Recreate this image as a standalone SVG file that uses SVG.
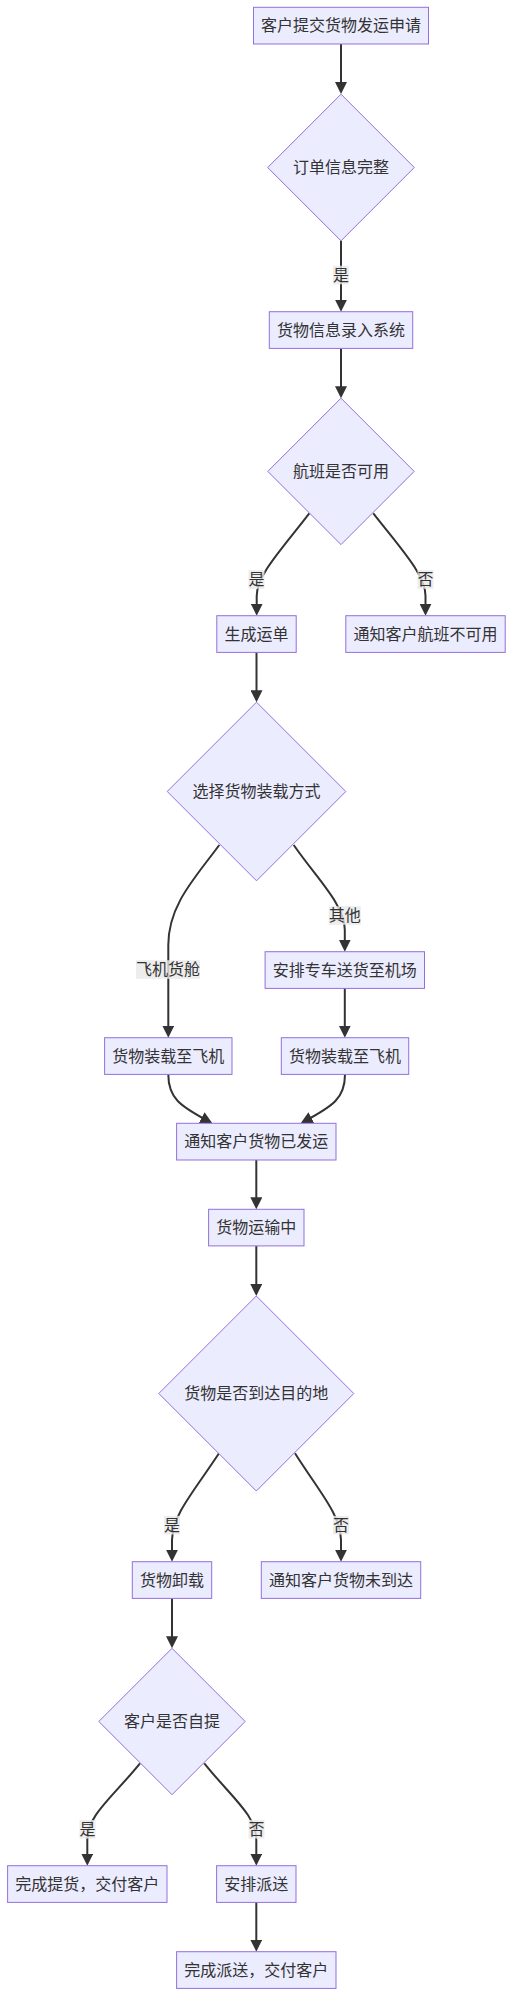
<svg xmlns="http://www.w3.org/2000/svg" width="513" height="1996" viewBox="0 0 513 1996">
<style>
.node rect,.node polygon{fill:#ECECFF;stroke:#9370DB;stroke-width:1}
.node text,.elabel text{font-family:"Liberation Sans","Noto Sans CJK SC",sans-serif;font-size:16px;fill:#333;text-anchor:middle;dominant-baseline:central}
.edges path{fill:none;stroke:#333;stroke-width:2;marker-end:url(#arrow)}
.elabel rect{fill:rgba(232,232,232,0.8)}
</style>
<defs>
<marker id="arrow" markerUnits="userSpaceOnUse" markerWidth="12" markerHeight="12" viewBox="0 0 12 12" refX="8" refY="6" orient="auto">
<path d="M0,0 L12,6 L0,12 z" fill="#333"/>
</marker>
</defs>
<g id="connectors" class="edges">
<path d="M341,44 L341,90"/>
<path d="M341,240.8 L341,307.7"/>
<path d="M341,348.4 L341,394.3"/>
<path d="M309.3,513.3 C281,550 256.7,575 256.7,596 L256.7,611.7"/>
<path d="M373.3,513.3 C402,550 425.5,575 425.5,596 L425.5,611.7"/>
<path d="M256.5,652.4 L256.5,698.2"/>
<path d="M219.3,845 C195,878 168.3,905 168.3,945 L168.3,1033.7"/>
<path d="M293.7,845 C318,880 344.8,905 344.8,930 L344.8,947.7"/>
<path d="M344.8,988.4 L344.8,1033.7"/>
<path d="M168.3,1074.4 C168.3,1098 180,1106 208.8,1121.4"/>
<path d="M345,1074.4 C345,1098 333,1106 304.2,1121.4"/>
<path d="M256.3,1160 L256.3,1205.3"/>
<path d="M256.3,1245.9 L256.3,1292"/>
<path d="M219,1453.3 C195,1490 172,1515 172,1540 L172,1557.7"/>
<path d="M295,1453.3 C318,1490 341,1515 341,1540 L341,1557.7"/>
<path d="M172,1598.4 L172,1644.3"/>
<path d="M140,1763.3 C112,1798 87.3,1815 87.3,1840 L87.3,1861.7"/>
<path d="M204.3,1763.3 C232,1798 256.3,1815 256.3,1840 L256.3,1861.7"/>
<path d="M256.3,1902.4 L256.3,1947.7"/>
</g>
<g id="edge-labels">
<g class="elabel"><rect x="333" y="265.7" width="16" height="18.6"/><text x="341" y="275">是</text></g>
<g class="elabel"><rect x="248.5" y="570.2" width="16" height="18.6"/><text x="256.5" y="579.5">是</text></g>
<g class="elabel"><rect x="417.5" y="570.2" width="16" height="18.6"/><text x="425.5" y="579.5">否</text></g>
<g class="elabel"><rect x="136" y="960.2" width="64" height="18.6"/><text x="168" y="969.5">飞机货舱</text></g>
<g class="elabel"><rect x="328.8" y="906.2" width="32" height="18.6"/><text x="344.8" y="915.5">其他</text></g>
<g class="elabel"><rect x="164" y="1515.9" width="16" height="18.6"/><text x="172" y="1525.2">是</text></g>
<g class="elabel"><rect x="333" y="1515.9" width="16" height="18.6"/><text x="341" y="1525.2">否</text></g>
<g class="elabel"><rect x="79.5" y="1820" width="16" height="18.6"/><text x="87.5" y="1829.3">是</text></g>
<g class="elabel"><rect x="248.5" y="1820" width="16" height="18.6"/><text x="256.5" y="1829.3">否</text></g>
</g>
<g id="A" class="node"><rect x="253.5" y="7.3" width="175" height="36.7"/><text x="341" y="25.7">客户提交货物发运申请</text></g>
<g id="D1" class="node"><polygon points="341,94.2 414.3,167.5 341,240.8 267.7,167.5"/><text x="341" y="167.5">订单信息完整</text></g>
<g id="B" class="node"><rect x="269.3" y="311.7" width="143.4" height="36.7"/><text x="341" y="330">货物信息录入系统</text></g>
<g id="D2" class="node"><polygon points="341,398.2 414.2,471.4 341,544.6 267.8,471.4"/><text x="341" y="471.4">航班是否可用</text></g>
<g id="C" class="node"><rect x="216.8" y="615.7" width="79.4" height="36.7"/><text x="256.5" y="634">生成运单</text></g>
<g id="E" class="node"><rect x="345.8" y="615.7" width="159.4" height="36.7"/><text x="425.5" y="634">通知客户航班不可用</text></g>
<g id="D3" class="node"><polygon points="256.5,702.2 345.8,791.5 256.5,880.8 167.2,791.5"/><text x="256.5" y="791.5">选择货物装载方式</text></g>
<g id="G" class="node"><rect x="265.1" y="951.7" width="159.4" height="36.7"/><text x="344.8" y="970">安排专车送货至机场</text></g>
<g id="F" class="node"><rect x="104.6" y="1037.7" width="127.4" height="36.7"/><text x="168.3" y="1056">货物装载至飞机</text></g>
<g id="H" class="node"><rect x="281.3" y="1037.7" width="127.4" height="36.7"/><text x="345" y="1056">货物装载至飞机</text></g>
<g id="I" class="node"><rect x="176.6" y="1123.3" width="159.4" height="36.7"/><text x="256.3" y="1141.7">通知客户货物已发运</text></g>
<g id="J" class="node"><rect x="208.6" y="1209.3" width="95.4" height="36.6"/><text x="256.3" y="1227.6">货物运输中</text></g>
<g id="D4" class="node"><polygon points="256.3,1296 353.8,1393.5 256.3,1491 158.8,1393.5"/><text x="256.3" y="1393.5">货物是否到达目的地</text></g>
<g id="K" class="node"><rect x="132.3" y="1561.7" width="79.4" height="36.7"/><text x="172" y="1580">货物卸载</text></g>
<g id="L" class="node"><rect x="261.3" y="1561.7" width="159.4" height="36.7"/><text x="341" y="1580">通知客户货物未到达</text></g>
<g id="D5" class="node"><polygon points="172,1648.3 245.2,1721.5 172,1794.7 98.8,1721.5"/><text x="172" y="1721.5">客户是否自提</text></g>
<g id="M" class="node"><rect x="7.6" y="1865.7" width="159.4" height="36.7"/><text x="87.3" y="1884">完成提货，交付客户</text></g>
<g id="N" class="node"><rect x="216.6" y="1865.7" width="79.4" height="36.7"/><text x="256.3" y="1884">安排派送</text></g>
<g id="O" class="node"><rect x="176.6" y="1951.7" width="159.4" height="36.7"/><text x="256.3" y="1970">完成派送，交付客户</text></g>
</svg>
